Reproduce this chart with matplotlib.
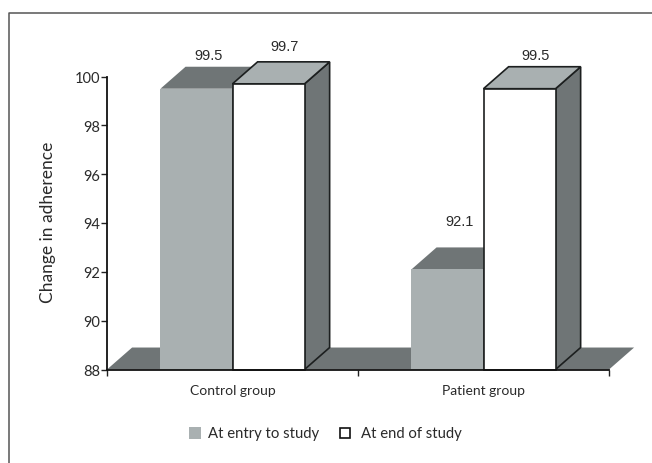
import matplotlib
matplotlib.use("Agg")
import matplotlib.pyplot as plt
from matplotlib.patches import Polygon, Rectangle

groups = ["Control group", "Patient group"]
series_names = ["At entry to study", "At end of study"]
entry_values = [99.5, 92.1]
end_values = [99.7, 99.5]
y_ticks = [88, 90, 92, 94, 96, 98, 100]

LIGHT = "#a9b0b1"
DARK = "#6f7576"
DEPTH_X = 0.1
DEPTH_Y = 0.9
BAR_W = 0.287
BASE = 88
TXT = "#2a2a2a"

W, H = 652, 464
plt.rcParams["font.family"] = ["Lato", "DejaVu Sans"]
fig = plt.figure(figsize=(W / 100, H / 100), dpi=100)
ax = fig.add_axes([107 / W, 1 - 370.5 / H, 502 / W, 293 / H])
ax.set_xlim(0, 2)
ax.set_ylim(BASE, 100)
ax.patch.set_alpha(0)


def poly(pts, fc, ec="none", lw=1.2, z=2):
    ax.add_patch(Polygon(pts, closed=True, facecolor=fc, edgecolor=ec, linewidth=lw,
                         zorder=z, clip_on=False, joinstyle="miter"))


poly([(0, BASE), (DEPTH_X, BASE + DEPTH_Y), (2 + DEPTH_X, BASE + DEPTH_Y), (2, BASE)], DARK)


def bar3d(x0, v, front, top, side, ec, z):
    x1 = x0 + BAR_W
    poly([(x1, BASE), (x1 + DEPTH_X, BASE + DEPTH_Y), (x1 + DEPTH_X, v + DEPTH_Y), (x1, v)], side, ec, z=z)
    poly([(x0, v), (x0 + DEPTH_X, v + DEPTH_Y), (x1 + DEPTH_X, v + DEPTH_Y), (x1, v)], top, ec, z=z)
    poly([(x0, BASE), (x0, v), (x1, v), (x1, BASE)], front, ec, z=z + 0.1)


entry_label_dy = [1.4, 1.97]
end_label_dy = [1.55, 1.4]
for i in range(len(groups)):
    centre = i + 0.5
    bar3d(centre - BAR_W, entry_values[i], LIGHT, DARK, DARK, "none", 3)
    ax.plot([centre, centre], [BASE, entry_values[i]], color="#3c4040", lw=1.2, zorder=3.5)
    bar3d(centre, end_values[i], "white", LIGHT, DARK, "#1c1f1f", 4)
    ax.text(centre - BAR_W / 2 + 0.05, entry_values[i] + entry_label_dy[i], f"{entry_values[i]}",
            ha="center", va="center", fontsize=10.5, family="Liberation Sans", color=TXT, clip_on=False)
    ax.text(centre + BAR_W / 2 + 0.065, end_values[i] + end_label_dy[i], f"{end_values[i]}",
            ha="center", va="center", fontsize=10.5, family="Liberation Sans", color=TXT, clip_on=False)

for s in ("top", "right"):
    ax.spines[s].set_visible(False)
for s in ("left", "bottom"):
    ax.spines[s].set_linewidth(1.3)
    ax.spines[s].set_color("#111111")
    ax.spines[s].set_zorder(6)
ax.set_yticks(y_ticks)
ax.set_xticks([0, 1, 2])
ax.set_xticklabels([])
ax.tick_params(axis="both", length=4, width=1, color="#222222", labelsize=10.5, labelcolor=TXT, pad=1)
for i, g in enumerate(groups):
    ax.text(i + 0.5, BASE - 0.83, g, ha="center", va="center", fontsize=10, color=TXT, clip_on=False)
fig.text(48 / W, 1 - 222 / H, "Change in adherence", rotation=90, ha="center", va="center",
         fontsize=12.5, color=TXT)

# legend
fig.add_artist(Rectangle((189 / W, 1 - 440 / H), 12 / W, 12 / H, transform=fig.transFigure, fc=LIGHT, ec="none"))
fig.add_artist(Rectangle((340 / W, 1 - 439 / H), 10 / W, 10 / H, transform=fig.transFigure, fc="white", ec="#111111", lw=1.2))
fig.text(208 / W, 1 - 434 / H, series_names[0], ha="left", va="center", fontsize=10.7, color=TXT)
fig.text(361 / W, 1 - 434 / H, series_names[1], ha="left", va="center", fontsize=10.7, color=TXT)

# outer frame: top and left edges only, running off the picture
fig.add_artist(plt.Line2D([9 / W, 9 / W, 1], [0, 1 - 14 / H, 1 - 14 / H], color="#555555", lw=1.1,
                          transform=fig.transFigure))

fig.savefig("out.png", dpi=100)
